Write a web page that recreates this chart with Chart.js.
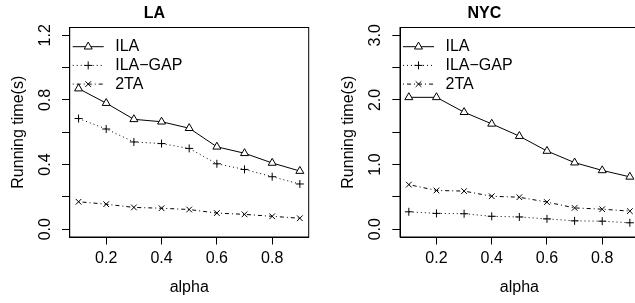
<!DOCTYPE html>
<html>
<head>
<meta charset="utf-8">
<script src="https://cdn.jsdelivr.net/npm/chart.js@4"></script>
<style>
html, body { margin: 0; padding: 0; background: #fff; overflow: hidden; width: 635px; height: 303px; position: relative; }
canvas { position: absolute; top: 0; }
</style>
</head>
<body>
<canvas id="chartLA" width="318" height="303" style="left:0px"></canvas>
<canvas id="chartNYC" width="318" height="303" style="left:330px"></canvas>
<script>
// values
const alpha = [0.1, 0.2, 0.3, 0.4, 0.5, 0.6, 0.7, 0.8, 0.9];
const seriesNames = ['ILA', 'ILA\u2212GAP', '2TA'];

const laILA    = [0.87, 0.78, 0.68, 0.665, 0.625, 0.51, 0.47, 0.41, 0.36];
const laILAGAP = [0.685, 0.62, 0.54, 0.53, 0.50, 0.405, 0.37, 0.325, 0.28];
const la2TA    = [0.17, 0.155, 0.135, 0.13, 0.122, 0.10, 0.092, 0.08, 0.068];

const nycILA    = [2.04, 2.04, 1.81, 1.63, 1.44, 1.21, 1.03, 0.91, 0.81];
const nycILAGAP = [0.27, 0.245, 0.24, 0.20, 0.19, 0.16, 0.13, 0.125, 0.10];
const nyc2TA    = [0.69, 0.60, 0.59, 0.51, 0.495, 0.42, 0.33, 0.31, 0.28];

const xTicks = [0.2, 0.4, 0.6, 0.8];
const xTickLabels = ['0.2', '0.4', '0.6', '0.8'];
const laYTicks = [0, 0.2, 0.4, 0.6, 0.8, 1.0, 1.2];
const laYTickLabels = ['0.0', '', '0.4', '', '0.8', '', '1.2'];
const nycYTicks = [0, 0.5, 1.0, 1.5, 2.0, 2.5, 3.0];
const nycYTickLabels = ['0.0', '', '1.0', '', '2.0', '', '3.0'];

const FONT = '"Liberation Sans", Arial, sans-serif';
Chart.defaults.font.family = FONT;
Chart.defaults.font.size = 16;
Chart.defaults.color = '#000';

// R style box around the plot region
const boxPlugin = {
    id: 'box',
    afterDraw(chart) {
        const {ctx, chartArea: a} = chart;
        ctx.save();
        ctx.strokeStyle = '#000';
        ctx.lineWidth = 1;
        ctx.strokeRect(a.left, a.top, a.right - a.left, a.bottom - a.top);
        ctx.restore();
    }
};

// legend inside the top left corner, line + symbol + label
const legendPlugin = {
    id: 'rlegend',
    afterDraw(chart) {
        const {ctx, chartArea: a} = chart;
        ctx.save();
        chart.data.datasets.forEach((ds, i) => {
            const y = a.top + 19.2 + i * 18.7;
            const x0 = a.left + 3, x1 = a.left + 34;
            ctx.strokeStyle = '#000';
            ctx.lineWidth = 1;
            ctx.setLineDash(ds.borderDash || []);
            ctx.beginPath();
            ctx.moveTo(x0, y);
            ctx.lineTo(x1, y);
            ctx.stroke();
            ctx.setLineDash([]);
            ctx.fillStyle = '#fff';
            Chart.helpers.drawPoint(ctx, {pointStyle: ds.pointStyle, radius: ds.pointRadius, borderWidth: 1, rotation: 0}, (x0 + x1) / 2, y);
            ctx.fillStyle = '#000';
            ctx.font = '16px ' + FONT;
            ctx.textBaseline = 'middle';
            ctx.textAlign = 'left';
            ctx.fillText(ds.label, a.left + 45.5, y);
        });
        ctx.restore();
    }
};

function makeSeries(values) {
    return values.map((v, i) => ({x: alpha[i], y: v}));
}

function makeChart(id, title, ila, ilagap, ta, yTicks, yLabels, yMax, yWidth) {
    const pad = yMax * 0.04;
    return new Chart(document.getElementById(id).getContext('2d'), {
        type: 'line',
        data: {
            datasets: [{
                label: seriesNames[0],
                data: makeSeries(ila),
                borderColor: '#000',
                borderWidth: 1,
                pointStyle: 'triangle',
                pointRadius: 4.6,
                pointBackgroundColor: '#fff',
                pointBorderColor: '#000',
                pointBorderWidth: 1
            }, {
                label: seriesNames[1],
                data: makeSeries(ilagap),
                borderColor: '#000',
                borderWidth: 1,
                borderDash: [1, 3],
                pointStyle: 'cross',
                pointRadius: 4,
                pointBorderColor: '#000',
                pointBorderWidth: 1
            }, {
                label: seriesNames[2],
                data: makeSeries(ta),
                borderColor: '#000',
                borderWidth: 1,
                borderDash: [1, 3, 4, 3],
                pointStyle: 'crossRot',
                pointRadius: 4,
                pointBorderColor: '#000',
                pointBorderWidth: 1
            }]
        },
        options: {
            responsive: false,
            animation: false,
            devicePixelRatio: 1,
            layout: { padding: { left: 0, right: 9.3, top: 0, bottom: 0 } },
            plugins: {
                legend: { display: false },
                tooltip: { enabled: false },
                title: {
                    display: true,
                    text: title,
                    color: '#000',
                    font: { size: 16, weight: 'bold' },
                    padding: { top: 4, bottom: 4.3 }
                }
            },
            scales: {
                x: {
                    type: 'linear',
                    min: 0.1 - 0.032,
                    max: 0.9 + 0.032,
                    afterBuildTicks: s => { s.ticks = xTicks.map(v => ({value: v})); },
                    afterFit: s => { s.height = 66; },
                    border: { display: true, color: '#000', width: 1 },
                    grid: { drawOnChartArea: false, drawTicks: true, tickLength: 7.5, color: '#000' },
                    ticks: { autoSkip: false, maxRotation: 0, padding: 4.7, callback: (v, i) => xTickLabels[i] },
                    title: { display: true, text: 'alpha', padding: { top: 0, bottom: 5.4 } }
                },
                y: {
                    min: -pad,
                    max: yMax + pad,
                    afterBuildTicks: s => { s.ticks = yTicks.map(v => ({value: v})); },
                    afterFit: s => { s.width = yWidth; },
                    border: { display: true, color: '#000', width: 1 },
                    grid: { drawOnChartArea: false, drawTicks: true, tickLength: 7.7, color: '#000' },
                    ticks: { autoSkip: false, minRotation: 90, maxRotation: 90, crossAlign: 'center', padding: 5.2,
                             callback: (v, i) => yLabels[i] },
                    title: { display: true, text: 'Running time(s)', padding: { top: 9.1, bottom: 0 } }
                }
            }
        },
        plugins: [boxPlugin, legendPlugin]
    });
}

makeChart('chartLA', 'LA', laILA, laILAGAP, la2TA, laYTicks, laYTickLabels, 1.2, 69.7);
makeChart('chartNYC', 'NYC', nycILA, nycILAGAP, nyc2TA, nycYTicks, nycYTickLabels, 3.0, 70);
</script>
</body>
</html>
